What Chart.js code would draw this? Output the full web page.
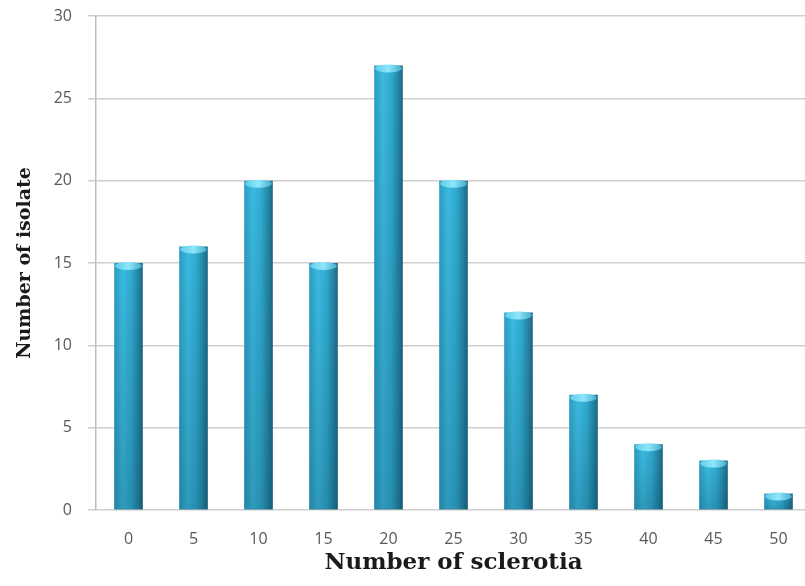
<!DOCTYPE html>
<html>
<head>
<meta charset="utf-8">
<script src="https://cdn.jsdelivr.net/npm/chart.js@4/dist/chart.umd.min.js"></script>
<style>
  html, body { margin: 0; padding: 0; background: #fff; overflow: hidden; }
  #wrap { width: 811px; height: 586px; }
</style>
</head>
<body>
<div id="wrap"><canvas id="sclerotiaChart" width="811" height="586"></canvas></div>
<script>
// sclerotia counts per isolate
const sclerotiaBins = ['0', '5', '10', '15', '20', '25', '30', '35', '40', '45', '50'];
const isolateCounts = [15, 16, 20, 15, 27, 20, 12, 7, 4, 3, 1];
const yTicks = [0, 5, 10, 15, 20, 25, 30];

const BAR_PCT = 0.44;
const tickFont = { family: 'Open Sans', size: 16 };

// shaded cylinder look: horizontal gradient across each bar
function barFill(context) {
  const chart = context.chart;
  const xs = chart.scales.x;
  if (!chart.chartArea || !xs || !xs.width) return '#2fa9ce';
  const w = xs.width / sclerotiaBins.length * BAR_PCT;
  const cx = xs.getPixelForValue(context.dataIndex);
  const g = chart.ctx.createLinearGradient(cx - w / 2, 0, cx + w / 2, 0);
  g.addColorStop(0, '#2a9cc0');
  g.addColorStop(0.3, '#3cbae0');
  g.addColorStop(0.6, '#30aad0');
  g.addColorStop(0.85, '#2484a3');
  g.addColorStop(1, '#1b6781');
  return g;
}

// darker base and light ellipse on top of each bar
const cylinderCaps = {
  id: 'cylinderCaps',
  afterDatasetsDraw(chart) {
    const ctx = chart.ctx;
    const base = chart.scales.y.getPixelForValue(0);
    chart.getDatasetMeta(0).data.forEach(bar => {
      const w = bar.width;
      ctx.save();
      const shade = ctx.createLinearGradient(0, bar.y, 0, base);
      shade.addColorStop(0, 'rgba(0,40,60,0)');
      shade.addColorStop(1, 'rgba(0,40,60,0.22)');
      ctx.fillStyle = shade;
      ctx.fillRect(bar.x - w / 2, bar.y, w, base - bar.y);

      const g = ctx.createLinearGradient(bar.x - w / 2, 0, bar.x + w / 2, 0);
      g.addColorStop(0, '#5ccbea');
      g.addColorStop(0.5, '#8fe6fb');
      g.addColorStop(1, '#3fa9c8');
      ctx.fillStyle = g;
      ctx.beginPath();
      ctx.ellipse(bar.x, bar.y + 3, w / 2 - 1, 4, 0, 0, Math.PI * 2);
      ctx.fill();
      ctx.restore();
    });
  }
};

new Chart(document.getElementById('sclerotiaChart'), {
  type: 'bar',
  data: {
    labels: sclerotiaBins,
    datasets: [{
      data: isolateCounts,
      backgroundColor: barFill,
      borderWidth: 0,
      barPercentage: BAR_PCT,
      categoryPercentage: 1
    }]
  },
  plugins: [cylinderCaps],
  options: {
    responsive: false,
    animation: false,
    layout: { padding: { top: 16, right: 0, left: 0, bottom: 0 } },
    plugins: { legend: { display: false }, tooltip: { enabled: false } },
    scales: {
      x: {
        grid: { display: false },
        border: { display: false },
        ticks: { color: '#595959', font: tickFont, padding: 12 },
        title: {
          display: true,
          text: 'Number of sclerotia',
          color: '#1a1a1a',
          font: { family: 'DejaVu Serif', size: 23, weight: 'bold' },
          padding: { top: 0, bottom: 9 }
        },
        afterFit(scale) { scale.height = 76; }
      },
      y: {
        min: 0,
        max: 30,
        afterBuildTicks(scale) { scale.ticks = yTicks.map(v => ({ value: v })); },
        grid: { color: '#cfcfcf', lineWidth: 1.5, tickLength: 8 },
        border: { color: '#bdbdbd', width: 1.5 },
        ticks: { color: '#595959', font: tickFont, padding: 16 },
        title: {
          display: true,
          text: 'Number of isolate',
          color: '#1a1a1a',
          font: { family: 'DejaVu Serif', size: 19, weight: 'bold' },
          padding: { top: 14, bottom: 0 }
        },
        afterFit(scale) {
          scale.width = 96;
          scale.paddingTop = 0;
          scale.paddingBottom = 0;
        }
      }
    }
  }
});
</script>
</body>
</html>
